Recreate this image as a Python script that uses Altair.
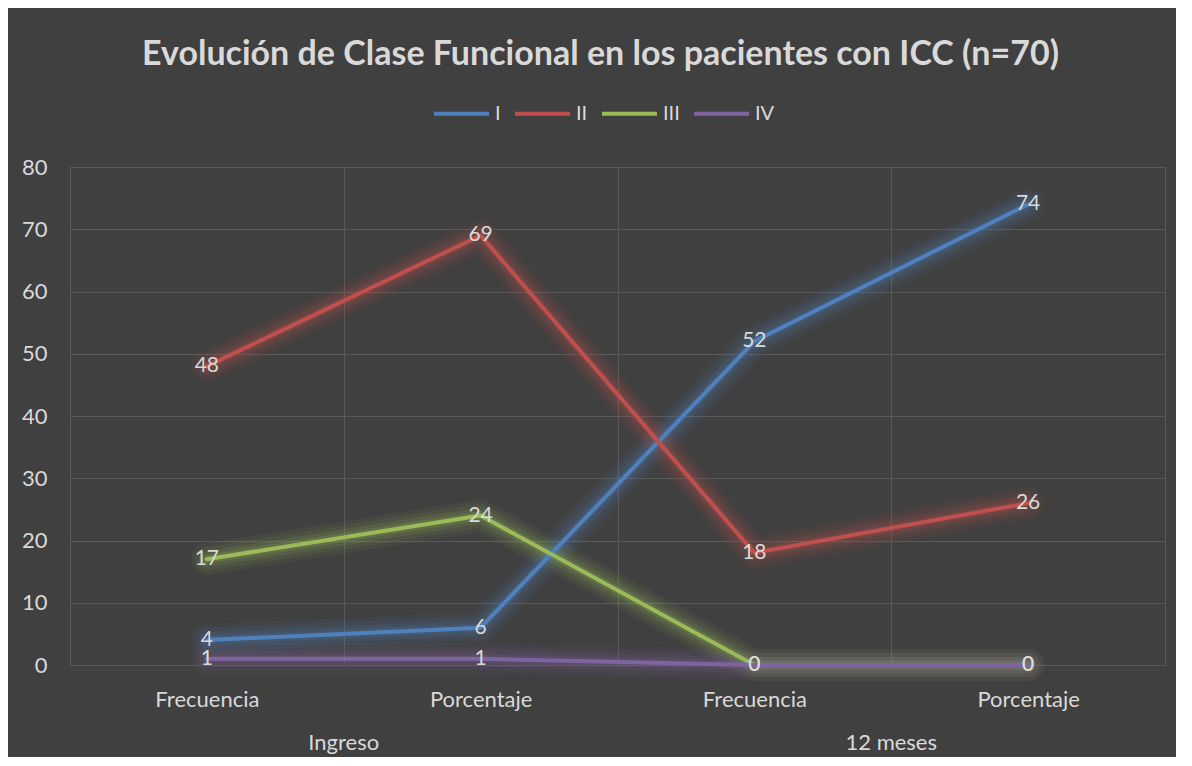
import altair as alt
import pandas as pd

groups = ["Ingreso", "Ingreso", "12 meses", "12 meses"]
measures = ["Frecuencia", "Porcentaje", "Frecuencia", "Porcentaje"]
series = ["I", "II", "III", "IV"]
values = {
    "I": [4, 6, 52, 74],
    "II": [48, 69, 18, 26],
    "III": [17, 24, 0, 0],
    "IV": [1, 1, 0, 0],
}
colors = ["#4F81BD", "#C0504D", "#9BBB59", "#8064A2"]
title_text = "Evolución de Clase Funcional en los pacientes con ICC (n=70)"

keys = [f"{g}|{m}" for g, m in zip(groups, measures)]
rows = []
for si, s in enumerate(series):
    for k, v in zip(keys, values[s]):
        rows.append({"key": k, "serie": s, "valor": v, "orden": si})
df = pd.DataFrame(rows)

group_rows = []
seen = []
for g, k in zip(groups, keys):
    if g not in seen:
        seen.append(g)
        group_rows.append({"grupo": g, "key": k})
gdf = pd.DataFrame(group_rows)

FONT = "Lato"
GRID = "#595959"
TXT = "#d9d9d9"
W, H = 1095, 498

xscale = alt.Scale(type="band", domain=keys, paddingInner=0, paddingOuter=0)
x_enc = alt.X(
    "key:N", scale=xscale, bandPosition=0.5,
    axis=alt.Axis(
        title=None, tickBand="extent", grid=True, gridColor=GRID, gridWidth=1,
        domain=False, ticks=False, labelAngle=0,
        labelExpr="split(datum.label, '|')[1]",
        labelColor=TXT, labelFontSize=22, labelFont=FONT, labelPadding=24,
    ),
)
y_enc = alt.Y(
    "valor:Q",
    scale=alt.Scale(domain=[0, 80], nice=False),
    axis=alt.Axis(
        title=None, values=list(range(0, 81, 10)), grid=True, gridColor=GRID,
        domain=False, ticks=False, labelColor=TXT, labelFontSize=22,
        labelFont=FONT, labelPadding=23,
    ),
)
color_enc = alt.Color(
    "serie:N",
    scale=alt.Scale(domain=series, range=colors),
    legend=alt.Legend(
        title=None, orient="none", direction="horizontal",
        legendX=362, legendY=-83, symbolType="stroke", symbolSize=3025,
        symbolStrokeWidth=4, symbolOpacity=1, labelColor=TXT, labelFontSize=20,
        labelFont=FONT, labelOffset=4, columnPadding=6,
    ),
)

base = alt.Chart(df).encode(x=x_enc, y=y_enc, color=color_enc, order="orden:Q")

glows = [
    base.mark_line(strokeWidth=w, opacity=o, strokeCap="round", strokeJoin="round")
    for w, o in [(32, 0.07), (24, 0.09), (16, 0.12), (9, 0.18)]
]
line = base.mark_line(strokeWidth=4, strokeCap="round", strokeJoin="round")
labels = alt.Chart(df).mark_text(
    font=FONT, fontSize=21, color=TXT, align="center", baseline="middle"
).encode(
    x=alt.X("key:N", scale=xscale, bandPosition=0.5),
    y=alt.Y("valor:Q", scale=alt.Scale(domain=[0, 80], nice=False)),
    text="valor:Q",
)
group_labels = alt.Chart(gdf).mark_text(
    font=FONT, fontSize=22, color=TXT, align="center", baseline="middle"
).encode(
    x=alt.X("key:N", scale=xscale, bandPosition=1),
    y=alt.value(H + 78),
    text="grupo:N",
)

chart = alt.layer(*glows, line, labels, group_labels).properties(
    width=W, height=H,
    background="#404040",
    padding={"left": 62, "top": 159, "right": 11, "bottom": 92},
    autosize=alt.AutoSizeParams(type="none"),
    title=alt.Title(
        title_text, font=FONT, fontSize=34, fontWeight="bold", color=TXT,
        anchor="middle", offset=12, dx=-17,
    ),
).configure_view(stroke=GRID)

chart.save("out.html", embed_options={"renderer": "svg", "actions": False})
